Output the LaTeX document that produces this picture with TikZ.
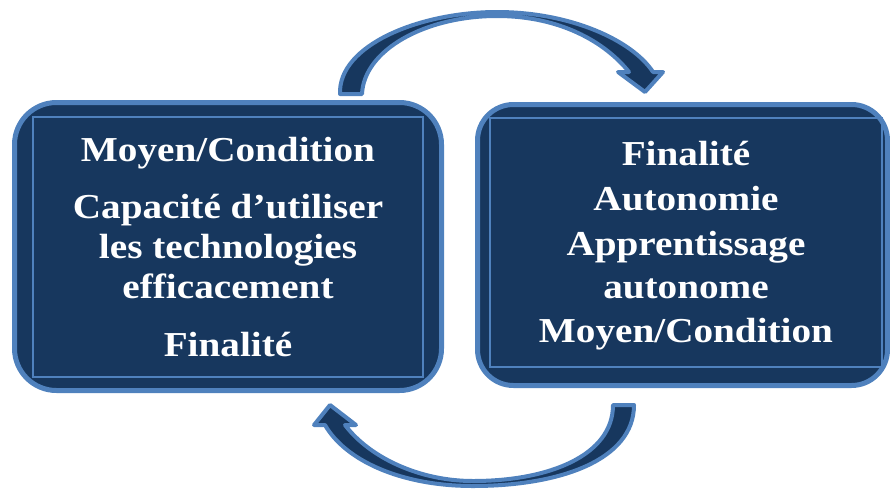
\documentclass[tikz,border=0pt]{standalone}
\usepackage{fontspec}
\newfontfamily\camfont[FakeStretch=1.12]{Liberation Serif}
\definecolor{dk}{HTML}{17375E}
\definecolor{lb}{HTML}{4F81BD}
\begin{document}
\begin{tikzpicture}[x=1pt,y=-1pt,
  outerbox/.style={draw=lb, line width=5pt, fill=dk, rounded corners=42pt, inner sep=0pt, outer sep=0pt},
  innerbox/.style={draw=lb, line width=1.3pt, inner sep=0pt, outer sep=0pt},
  txt/.style={text=white, font=\camfont\bfseries\fontsize{35}{40}\selectfont, anchor=base, inner sep=0pt},
  arrowshape/.style={fill=dk, draw=lb, line width=4pt, line join=round}]
\useasboundingbox (0,0) rectangle (890,490);
% boxes
\node[outerbox, minimum width=427pt, minimum height=288pt] (L) at (228,246.5) {};
\node[innerbox, minimum width=390pt, minimum height=260pt] (Li) at (228,247) {};
\node[outerbox, rounded corners=36pt, minimum width=410pt, minimum height=281pt] (R) at (682.5,245) {};
\node[innerbox, minimum width=392pt, minimum height=249pt] (Ri) at (686,242.5) {};
% left text
\node[txt] (l1) at (228,161) {Moyen/Condition};
\node[txt] (l2) at (228,218) {Capacité d’utiliser};
\node[txt] (l3) at (228,258) {les technologies};
\node[txt] (l4) at (228,298) {efficacement};
\node[txt] (l5) at (228,356) {Finalité};
% right text
\node[txt] (r1) at (686,165) {Finalité};
\node[txt] (r2) at (686,210) {Autonomie};
\node[txt] (r3) at (686,255) {Apprentissage};
\node[txt] (r4) at (686,298) {autonome};
\node[txt] (r5) at (686,342) {Moyen/Condition};
% top curved arrow
\draw[arrowshape] (340,94) .. controls (338,45) and (420,12) .. (497,12)
  .. controls (570,12) and (632,40) .. (653,72)
  -- (663,72) -- (645,92) -- (618,72) -- (629,72)
  .. controls (605,42) and (560,16) .. (497,16)
  .. controls (425,16) and (364,50) .. (362,94) -- cycle;
% bottom curved arrow
\draw[arrowshape] (634,405) .. controls (634,460) and (560,486) .. (473,486)
  .. controls (400,486) and (345,460) .. (325,425)
  -- (314,425) -- (330,405) -- (356,425) -- (345,425)
  .. controls (370,458) and (420,481) .. (473,481)
  .. controls (550,481) and (613,455) .. (613,405) -- cycle;
\end{tikzpicture}
\end{document}
